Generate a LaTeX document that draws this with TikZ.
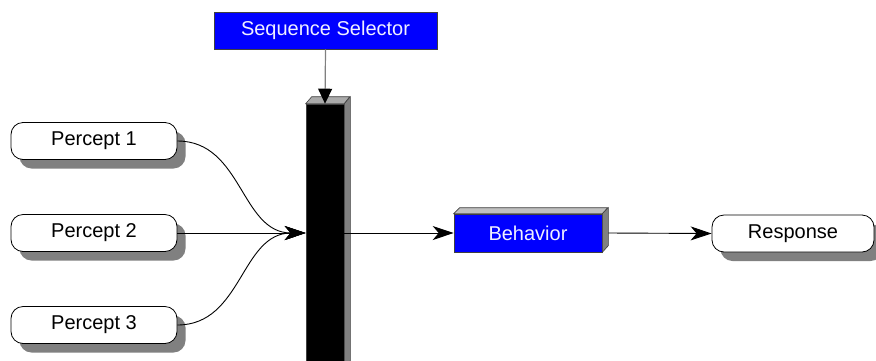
\documentclass[tikz,border=0pt]{standalone}
\usepackage{fontspec}
\setmainfont{Liberation Sans}
\usetikzlibrary{arrows.meta,shadows}
\definecolor{shadowgray}{RGB}{128,128,128}
\definecolor{edgegray}{RGB}{64,64,64}
\definecolor{topgray}{RGB}{170,170,170}
\definecolor{toplight}{RGB}{192,192,192}
\definecolor{sidegray}{RGB}{128,128,128}
\definecolor{pureblue}{RGB}{0,0,255}
\definecolor{paletext}{RGB}{240,240,255}
\begin{document}
\begin{tikzpicture}[x=1pt,y=-1pt,
  every node/.style={font=\fontsize{20}{23}\selectfont, inner sep=0pt},
  percept/.style={draw=black, line width=0.8pt, fill=white, rounded corners=12pt,
    minimum width=166pt, minimum height=37pt,
    drop shadow={shadow xshift=8.5pt, shadow yshift=-9pt, fill=shadowgray, opacity=1}},
  bluebox/.style={draw=edgegray, line width=0.6pt, fill=pureblue, text=paletext,
    minimum height=37pt},
  barbox/.style={draw=edgegray, line width=0.6pt, fill=black, minimum width=38pt, minimum height=264pt},
  face/.style={draw=edgegray, line width=0.6pt},
  conn/.style={draw=black, line width=0.9pt, -{Stealth[length=21pt,width=14pt,inset=6pt]}},
  selconn/.style={draw=shadowgray, line width=1.2pt, -{Triangle[length=15pt,width=14pt,color=black,fill=black]}}
]
\useasboundingbox (0,0) rectangle (876,360);

% percepts
\node[percept] (p1) at (94,141) {Percept 1};
\node[percept] (p2) at (94,233) {Percept 2};
\node[percept] (p3) at (94,325) {Percept 3};

% sequence selector
\node[bluebox, minimum width=223pt] (sel) at (325.5,30.5) {Sequence Selector};

% bar
\node[barbox] (bar) at (325,236) {};
\fill[face, fill=topgray] (bar.north west) -- ++(6,-7) -- ++(38,0) -- (bar.north east) -- cycle;
\fill[face, fill=sidegray] (bar.north east) -- ++(6,-7) -- ++(0,264) -- (bar.south east) -- cycle;

% behavior
\node[bluebox, minimum width=148pt, minimum height=38pt] (beh) at (528,233) {Behavior};
\fill[face, fill=toplight] (beh.north west) -- ++(6,-6) -- ++(148,0) -- (beh.north east) -- cycle;
\fill[face, fill=sidegray] (beh.north east) -- ++(6,-6) -- ++(0,38) -- (beh.south east) -- cycle;

% response
\node[percept, minimum width=162pt] (resp) at (793,233.5) {Response};

% connectors
\draw[selconn] (sel.south) -- (bar.north);
\draw[conn] (p1.east) .. controls +(65,0) and +(-65,0) .. (bar.west |- p2.east);
\draw[conn] (p2.east) -- (bar.west |- p2.east);
\draw[conn] (p3.east) .. controls +(65,0) and +(-65,0) .. (bar.west |- p2.east);
\draw[conn] (bar.east |- beh.west) -- (beh.west);
\draw[conn] ([xshift=6pt]beh.east) -- (resp.west);
\end{tikzpicture}
\end{document}
